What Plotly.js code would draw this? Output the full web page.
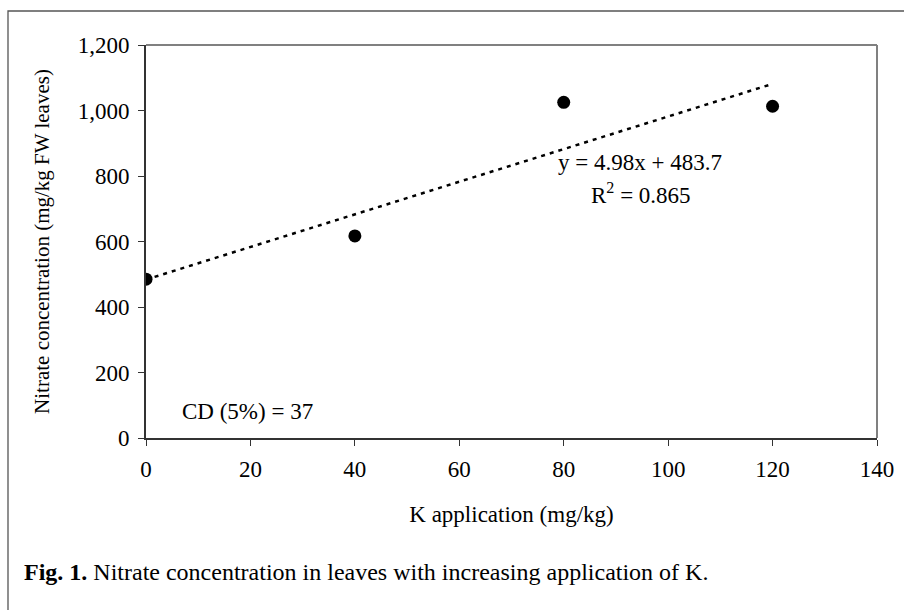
<!DOCTYPE html>
<html>
<head>
<meta charset="utf-8">
<script src="https://cdn.plot.ly/plotly-3.0.1.min.js"></script>
<style>html,body{margin:0;padding:0;background:#fff;}#chart{width:904px;height:610px;}</style>
</head>
<body>
<div id="chart"></div>
<script>
// Data
const kApplication = [0, 40, 80, 120];
const nitrate = [485, 617, 1025, 1013];
// Linear trend line endpoints (y = 4.98x + 483.7)
const trendX = [0, 120];
const trendY = [483.7, 1081.3];
const xTicks = [0, 20, 40, 60, 80, 100, 120, 140];
const yTicks = [0, 200, 400, 600, 800, 1000, 1200];

const FONT = '"Liberation Serif", "Times New Roman", serif';
const FS = 23;
const L = 146, R = 877, T = 45, B = 438, W = 904, H = 610;
const px = x => (x - L) / (R - L);
const py = y => (B - y) / (B - T);

const traces = [
  {x: trendX, y: trendY, mode: 'lines', type: 'scatter',
   line: {color: '#000', width: 2.5, dash: '4px,5px'}, hoverinfo: 'skip'},
  {x: kApplication, y: nitrate, mode: 'markers', type: 'scatter',
   marker: {color: '#000', size: 13, line: {width: 0}}}
];

const layout = {
  width: W, height: H,
  margin: {l: L, r: W - R, t: T, b: H - B},
  paper_bgcolor: '#fff', plot_bgcolor: '#fff',
  showlegend: false,
  font: {family: FONT, size: FS, color: '#000'},
  xaxis: {
    range: [0, 140], tickvals: xTicks, ticks: 'outside', ticklen: 6, tickwidth: 1,
    tickcolor: '#333', showline: true, linecolor: '#333', linewidth: 2,
    showgrid: false, zeroline: false, fixedrange: true,
    tickfont: {family: FONT, size: FS}, ticklabelstandoff: 3,
    title: {text: 'K application (mg/kg)', font: {family: FONT, size: FS}, standoff: 25}
  },
  yaxis: {
    range: [0, 1200], tickvals: yTicks, tickformat: ',d', ticks: 'outside', ticklen: 6, tickwidth: 1,
    tickcolor: '#333', showline: true, linecolor: '#333', linewidth: 2,
    showgrid: false, zeroline: false, fixedrange: true,
    tickfont: {family: FONT, size: FS}, ticklabelstandoff: 4,
    title: {text: 'Nitrate concentration (mg/kg FW leaves)', font: {family: FONT, size: 21}, standoff: 22}
  },
  shapes: [
    {type: 'line', xref: 'paper', yref: 'paper', x0: 0, x1: 1, y0: 1, y1: 1, line: {color: '#808080', width: 2}},
    {type: 'line', xref: 'paper', yref: 'paper', x0: 1, x1: 1, y0: 0, y1: 1, line: {color: '#808080', width: 2}},
    {type: 'rect', xref: 'paper', yref: 'paper', x0: px(8), x1: px(910), y0: py(616), y1: py(11),
     line: {color: '#555', width: 1.3}, fillcolor: 'rgba(0,0,0,0)', layer: 'below'}
  ],
  annotations: [
    {xref: 'x', yref: 'y', x: 94.6, y: 840, text: 'y = 4.98x + 483.7', showarrow: false,
     font: {family: FONT, size: FS}, xanchor: 'center', yanchor: 'middle'},
    {xref: 'x', yref: 'y', x: 94.8, y: 748, text: 'R<sup>2</sup> = 0.865', showarrow: false,
     font: {family: FONT, size: FS}, xanchor: 'center', yanchor: 'middle'},
    {xref: 'paper', yref: 'paper', x: px(180), y: py(426), text: 'CD (5%) = 37', showarrow: false,
     font: {family: FONT, size: FS}, xanchor: 'left', yanchor: 'bottom'},
    {xref: 'paper', yref: 'paper', x: px(22), y: py(572), text: '<b>Fig. 1.</b> Nitrate concentration in leaves with increasing application of K.',
     showarrow: false, font: {family: FONT, size: 24}, xanchor: 'left', yanchor: 'middle'}
  ]
};

Plotly.newPlot('chart', traces, layout, {displayModeBar: false, staticPlot: true});
</script>
</body>
</html>
